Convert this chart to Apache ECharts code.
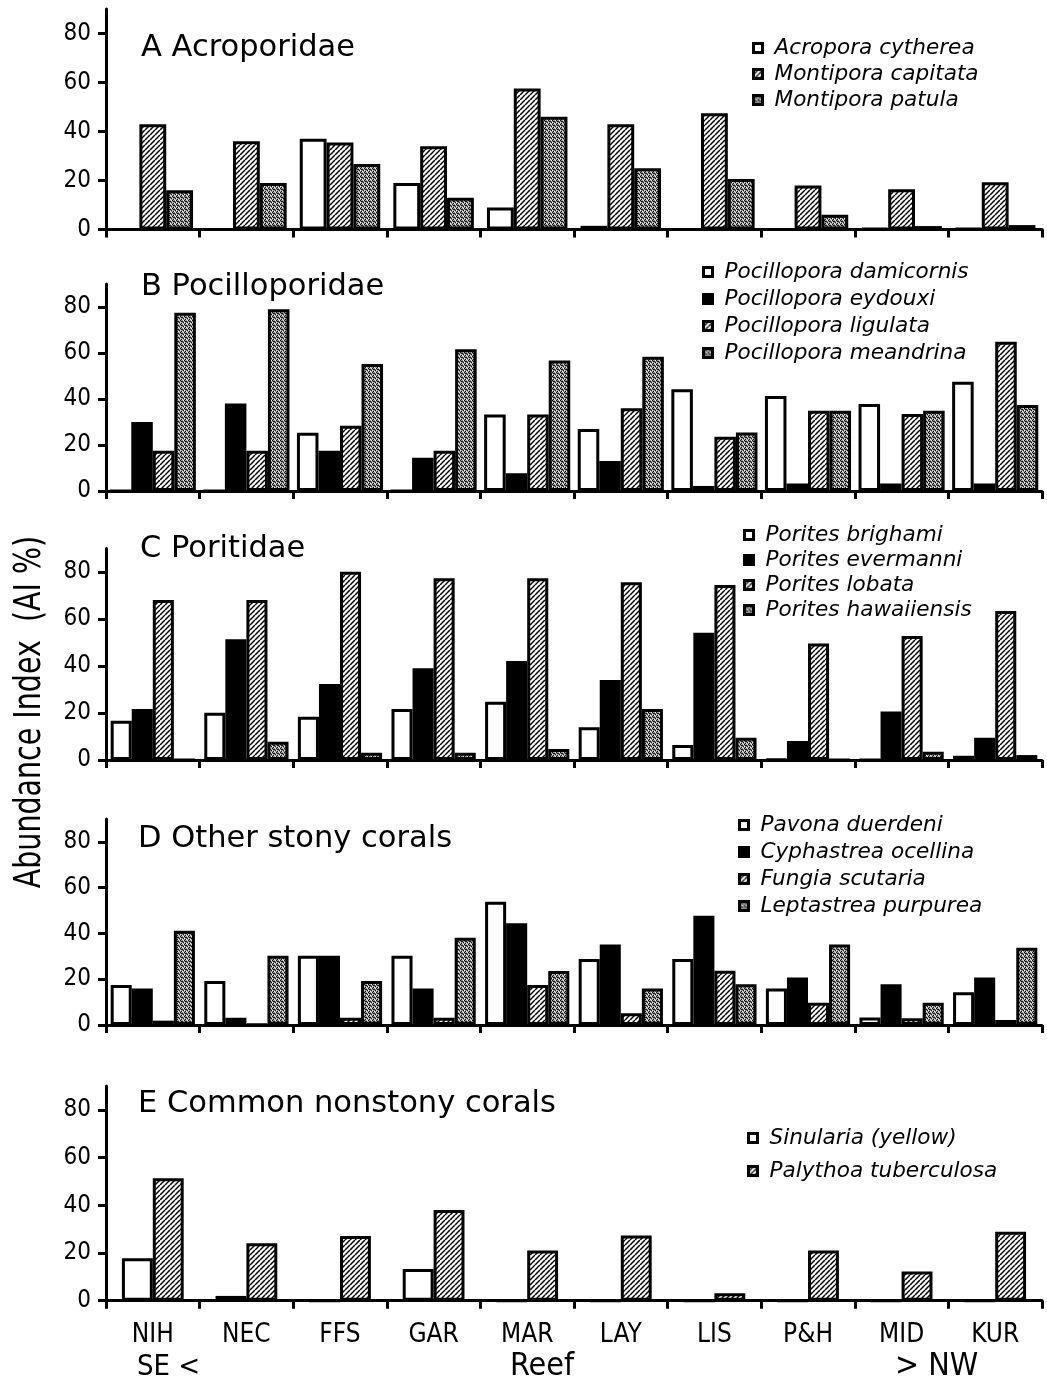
<!DOCTYPE html>
<html>
<head>
<meta charset="utf-8">
<script src="https://cdn.jsdelivr.net/npm/echarts@6/dist/echarts.min.js"></script>
<style>html,body{margin:0;padding:0;background:#fff}#c{width:1047px;height:1385px}</style>
</head>
<body>
<div id="c"></div>
<script>
// ---- data ----
const reefs = ['NIH','NEC','FFS','GAR','MAR','LAY','LIS','P&H','MID','KUR'];
const yTicks = [0, 20, 40, 60, 80];

// A Acroporidae
const acroporaCytherea  = [0, 0, 37, 19, 9, 1.5, 0, 0, 0.5, 0.5];
const montiporaCapitata = [43, 36, 35.5, 34, 57.6, 43, 47.4, 18, 16.4, 19.3];
const montiporaPatula   = [16, 19, 26.7, 13, 46, 25, 20.6, 6, 1.4, 1.8];

// B Pocilloporidae
const pocDamicornis = [0, 0, 25.3, 0, 33.3, 27, 44.2, 41.3, 37.8, 47.5];
const pocEydouxi    = [30, 38, 17.5, 14.5, 7.7, 13, 2.2, 3.3, 3.3, 3.3];
const pocLigulata   = [17.5, 17.5, 28.4, 17.5, 33.3, 36, 23.6, 34.9, 33.5, 64.9];
const pocMeandrina  = [77.5, 79, 55.2, 61.6, 56.7, 58.4, 25.4, 34.9, 34.9, 37.4];

// C Poritidae
const porBrighami    = [16.7, 20.1, 18.4, 21.7, 24.8, 13.9, 6.4, 0.3, 0, 1.8];
const porEvermanni   = [21.7, 51.4, 32.3, 39, 42.1, 34, 54.2, 8.1, 20.6, 9.5];
const porLobata      = [68.1, 68.1, 80.1, 77.3, 77.3, 75.6, 74.5, 49.6, 52.8, 63.4];
const porHawaiiensis = [0, 7.8, 3.1, 3.1, 4.7, 21.7, 9.5, 0, 3.5, 2.1];

// D Other stony corals
const pavonaDuerdeni     = [17.5, 19.2, 30.3, 30.3, 53.8, 28.8, 28.8, 16, 3.3, 14.3];
const cyphastreaOcellina = [16, 3.2, 30.3, 16, 44.4, 35.2, 47.7, 20.8, 17.8, 20.8];
const fungiaScutaria     = [1.9, 0.3, 3.2, 3.2, 17.5, 5.1, 23.7, 9.7, 3, 2.2];
const leptastreaPurpurea = [41.2, 30.3, 19.2, 38.1, 23.6, 16, 17.8, 35.2, 9.7, 33.8];

// E Common nonstony corals
const sinulariaYellow     = [17.8, 2, 0, 13.3, 0, 0, 0, 0, 0, 0];
const palythoaTuberculosa = [51.3, 24.1, 27.1, 38, 21, 27.3, 3.1, 21, 12.2, 28.9];

// ---- fill patterns ----
function hatchPattern() {
  const n = 5;
  const c = document.createElement('canvas'); c.width = n; c.height = n;
  const g = c.getContext('2d');
  g.fillStyle = '#fff'; g.fillRect(0, 0, n, n);
  g.strokeStyle = '#000'; g.lineWidth = 1.5;
  for (const o of [-n, 0, n]) { g.beginPath(); g.moveTo(o, n); g.lineTo(o + n, 0); g.stroke(); }
  return { image: c, repeat: 'repeat' };
}
function stipplePattern() {
  const c = document.createElement('canvas'); c.width = 4; c.height = 4;
  const g = c.getContext('2d');
  g.fillStyle = '#959595'; g.fillRect(0, 0, 4, 4);
  g.fillStyle = '#111';
  [[0,0],[2,1],[1,3],[3,2],[1,1]].forEach(p => g.fillRect(p[0], p[1], 1, 1));
  g.fillStyle = '#eaeaea';
  [[2,3],[0,2],[3,0]].forEach(p => g.fillRect(p[0], p[1], 1, 1));
  return { image: c, repeat: 'repeat' };
}
const FILL = { white: '#ffffff', black: '#000000', hatch: hatchPattern(), stipple: stipplePattern() };

// ---- layout ----
const grids = [
  { top: 9,    height: 220.5 },
  { top: 284,  height: 207 },
  { top: 548.5,height: 211.5 },
  { top: 819,  height: 206 },
  { top: 1086, height: 214.7 }
];
const panels = [
  { title: 'A Acroporidae', tleft: 141, ttop: 33, gap: '14%',
    lleft: 752, ltop: 37, lgap: 4,
    series: [['Acropora cytherea', acroporaCytherea, 'white'], ['Montipora capitata', montiporaCapitata, 'hatch'], ['Montipora patula', montiporaPatula, 'stipple']] },
  { title: 'B Pocilloporidae', tleft: 141, ttop: 272, gap: '8%',
    lleft: 702, ltop: 261, lgap: 5,
    series: [['Pocillopora damicornis', pocDamicornis, 'white'], ['Pocillopora eydouxi', pocEydouxi, 'black'], ['Pocillopora ligulata', pocLigulata, 'hatch'], ['Pocillopora meandrina', pocMeandrina, 'stipple']] },
  { title: 'C Poritidae', tleft: 140, ttop: 534, gap: '10%',
    lleft: 743, ltop: 524, lgap: 3,
    series: [['Porites brighami', porBrighami, 'white'], ['Porites evermanni', porEvermanni, 'black'], ['Porites lobata', porLobata, 'hatch'], ['Porites hawaiiensis', porHawaiiensis, 'stipple']] },
  { title: 'D Other stony corals', tleft: 138, ttop: 824, gap: '10%',
    lleft: 738, ltop: 814, lgap: 5,
    series: [['Pavona duerdeni', pavonaDuerdeni, 'white'], ['Cyphastrea ocellina', cyphastreaOcellina, 'black'], ['Fungia scutaria', fungiaScutaria, 'hatch'], ['Leptastrea purpurea', leptastreaPurpurea, 'stipple']] },
  { title: 'E Common nonstony corals', tleft: 138, ttop: 1089, gap: '34%',
    lleft: 747, ltop: 1127, lgap: 11,
    series: [['Sinularia (yellow)', sinulariaYellow, 'white'], ['Palythoa tuberculosa', palythoaTuberculosa, 'hatch']] }
];

const option = { animation: false, backgroundColor: '#fff',
  grid: [], xAxis: [], yAxis: [], series: [], legend: [], title: [], graphic: [] };

panels.forEach((p, i) => {
  option.grid.push({ left: 106, right: 5, top: grids[i].top, height: grids[i].height });
  option.xAxis.push({
    gridIndex: i, type: 'category', data: reefs, boundaryGap: true,
    axisLine: { lineStyle: { color: '#000', width: 3 } },
    axisTick: { show: true, interval: 0, length: 8, lineStyle: { color: '#000', width: 3 } },
    axisLabel: { show: i === 4, interval: 0, margin: 22, color: '#000', fontSize: 26,
      fontFamily: '"Liberation Sans Narrow", "DejaVu Sans Condensed", sans-serif' },
    splitLine: { show: false }
  });
  option.yAxis.push({
    gridIndex: i, type: 'value', min: 0, max: 90,
    axisLine: { show: true, lineStyle: { color: '#000', width: 3 } },
    axisTick: { show: true, customValues: yTicks, length: 8, lineStyle: { color: '#000', width: 3 } },
    axisLabel: { customValues: yTicks, margin: 15, color: '#000', fontSize: 24,
      fontFamily: '"DejaVu Sans Condensed", "DejaVu Sans", sans-serif' },
    splitLine: { show: false }
  });
  p.series.forEach(s => {
    option.series.push({
      type: 'bar', name: s[0], data: s[1], xAxisIndex: i, yAxisIndex: i,
      barGap: '0%', barCategoryGap: p.gap,
      itemStyle: { color: FILL[s[2]], borderColor: '#000', borderWidth: 3 },
      emphasis: { disabled: true }
    });
  });
  option.legend.push({
    data: p.series.map(s => s[0]), orient: 'vertical', left: p.lleft, top: p.ltop,
    padding: 0, itemGap: p.lgap, itemWidth: 9, itemHeight: 9, icon: 'rect',
    selectedMode: false,
    itemStyle: { borderWidth: 3, borderColor: '#000' },
    textStyle: { fontFamily: '"DejaVu Sans", sans-serif', fontStyle: 'italic', fontSize: 21.6,
      lineHeight: 22, color: '#000', padding: [0, 0, 0, 7] }
  });
  option.title.push({
    text: p.title, left: p.tleft, top: p.ttop, padding: 0,
    textStyle: { fontFamily: '"DejaVu Sans", sans-serif', fontSize: 30.5, fontWeight: 'normal', color: '#000' }
  });
});

option.graphic = [
  { type: 'text', x: 30, y: 712, rotation: Math.PI / 2, scaleX: 0.75,
    style: { text: 'Abundance Index  (AI %)', fontFamily: '"DejaVu Sans", sans-serif', fontSize: 38,
      fill: '#000', textAlign: 'center', textVerticalAlign: 'middle' } },
  { type: 'text', x: 137, y: 1367,
    style: { text: 'SE <', fontFamily: '"Liberation Sans Narrow", "DejaVu Sans Condensed", sans-serif', fontSize: 29,
      fill: '#000', textAlign: 'left', textVerticalAlign: 'middle' } },
  { type: 'text', x: 542, y: 1367,
    style: { text: 'Reef', fontFamily: '"Liberation Sans Narrow", "DejaVu Sans Condensed", sans-serif', fontSize: 32,
      fill: '#000', textAlign: 'center', textVerticalAlign: 'middle' } },
  { type: 'text', x: 895, y: 1367,
    style: { text: '> NW', fontFamily: '"Liberation Sans Narrow", "DejaVu Sans Condensed", sans-serif', fontSize: 32,
      fill: '#000', textAlign: 'left', textVerticalAlign: 'middle' } }
];

const chart = echarts.init(document.getElementById('c'), null, { renderer: 'canvas' });
chart.setOption(option);
</script>
</body>
</html>
